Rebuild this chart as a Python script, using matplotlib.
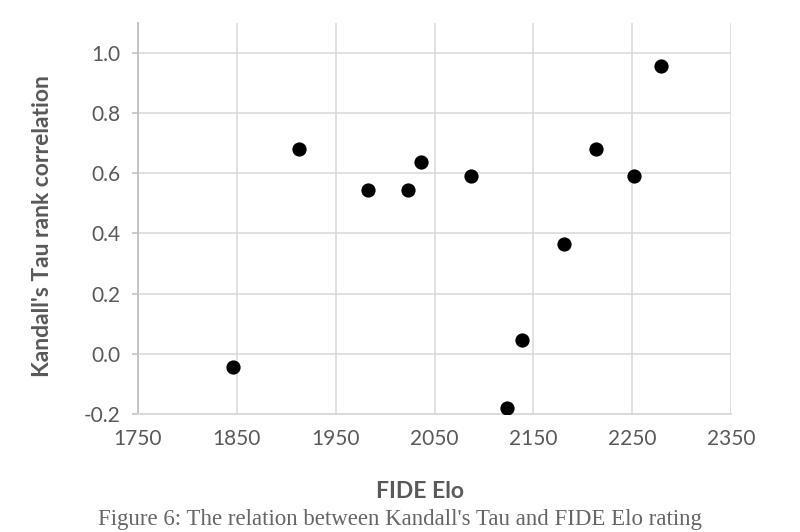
import matplotlib.pyplot as plt

# FIDE Elo vs Kendall's tau
elo = [1846, 1913, 1983, 2023, 2036, 2087, 2123, 2139, 2181, 2213, 2252, 2279]
tau = [-0.045, 0.682, 0.545, 0.545, 0.636, 0.591, -0.182, 0.045, 0.364, 0.682, 0.591, 0.955]

x_ticks = [1750, 1850, 1950, 2050, 2150, 2250, 2350]
y_ticks = [-0.2, 0.0, 0.2, 0.4, 0.6, 0.8, 1.0]

plt.rcParams['font.family'] = ['Lato', 'DejaVu Sans']
txt = '#595959'
grid = '#d9d9d9'

fig = plt.figure(figsize=(8, 5.32), dpi=100)
ax = fig.add_axes([0.1725, 0.222, 0.74125, 0.735])

ax.scatter(elo, tau, s=105, color='black', zorder=3, linewidths=0)

ax.set_xlim(1750, 2350)
ax.set_ylim(-0.2, 1.1)
ax.set_xticks(x_ticks)
ax.set_yticks(y_ticks)
ax.set_yticklabels([f'{v:.1f}' for v in y_ticks])

ax.grid(True, color=grid, linewidth=1.1, zorder=0)
ax.set_axisbelow(True)
for s in ['top', 'right']:
    ax.spines[s].set_visible(False)
ax.spines['left'].set_color('#bfbfbf')
ax.spines['left'].set_linewidth(1.3)
ax.spines['bottom'].set_color(grid)
ax.spines['bottom'].set_linewidth(1.3)

ax.tick_params(axis='y', length=4.5, width=1.1, color='#bfbfbf', pad=8,
               labelsize=15, labelcolor=txt)
ax.tick_params(axis='x', length=0, pad=11, labelsize=15, labelcolor=txt)

fig.text(420 / 800, 1 - 492 / 532, 'FIDE Elo', ha='center', va='center',
         fontsize=16.5, fontweight='bold', color=txt)
fig.text(42.5 / 800, 1 - 226 / 532, "Kandall's Tau rank correlation", ha='center',
         va='center', rotation=90, fontsize=16.5, fontweight='bold', color=txt)

# caption under the figure (mostly cropped in the source image)
fig.text(0.5, 0.004, "Figure 6: The relation between Kandall's Tau and FIDE Elo rating",
         ha='center', va='bottom', fontsize=16.5, color='#666666',
         family=['Liberation Serif', 'DejaVu Serif'])

fig.savefig('out.png', dpi=100)
